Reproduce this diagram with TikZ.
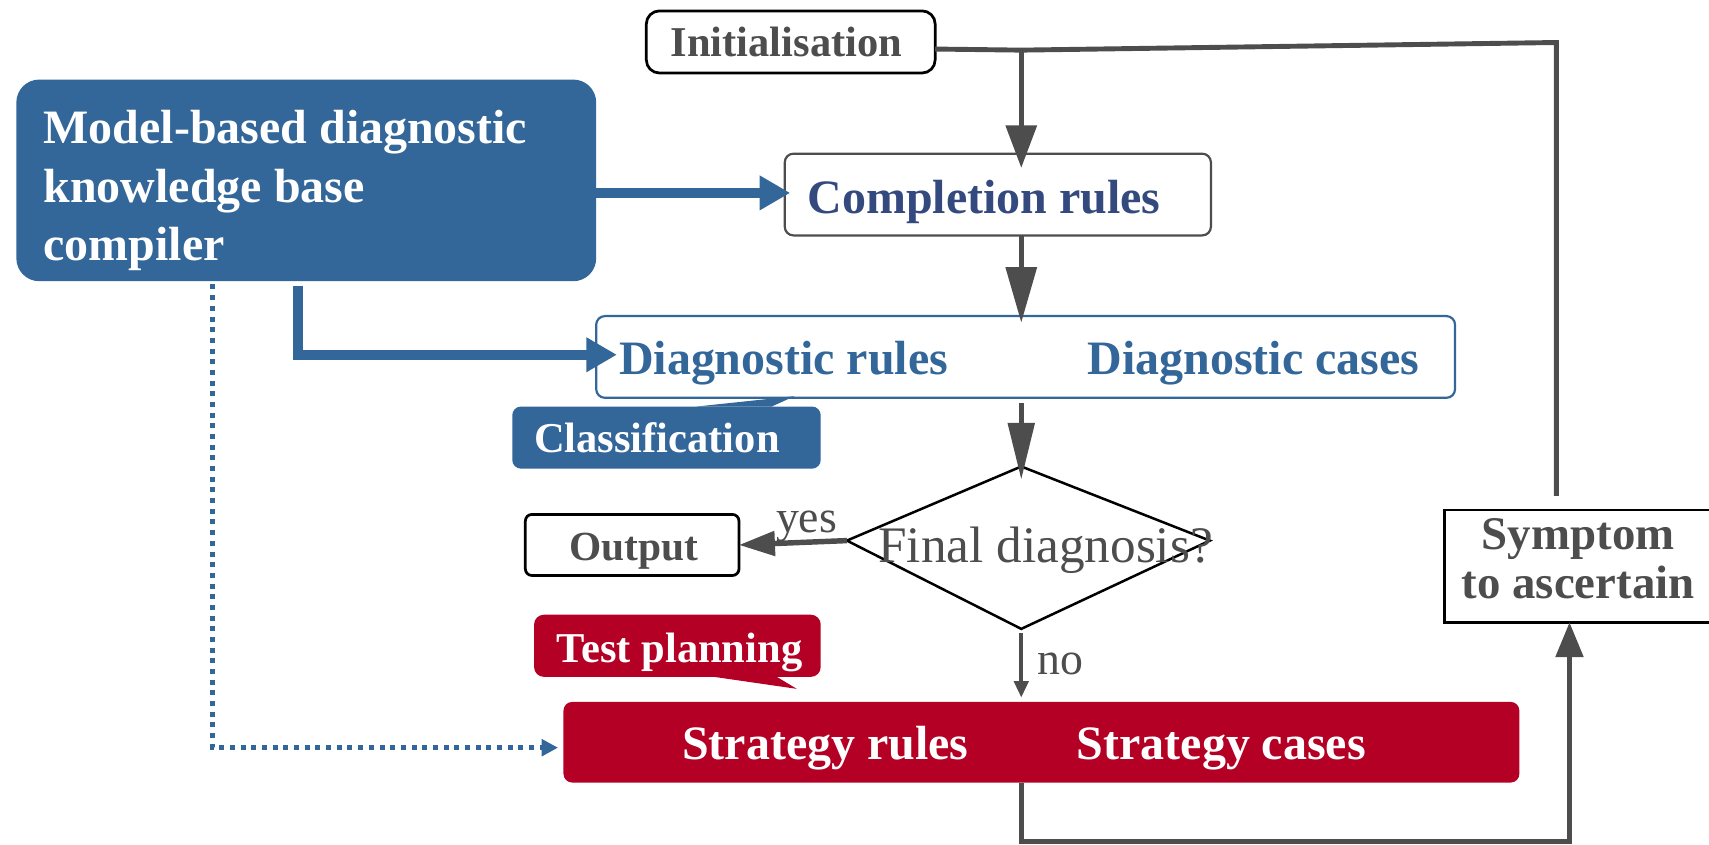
\documentclass[tikz,border=0pt]{standalone}
\usepackage{fontspec}
\setmainfont{Liberation Serif}
\usetikzlibrary{arrows.meta}

\definecolor{kbblue}{RGB}{51,102,153}
\definecolor{kbnavy}{RGB}{52,74,127}
\definecolor{kbred}{RGB}{180,0,36}
\definecolor{kbgray}{RGB}{77,77,77}

\tikzset{
  sz/.style={font=\fontsize{#1}{#1}\selectfont},
  boxshape/.style={rectangle, inner sep=0pt, outer sep=0pt},
  plainbox/.style={boxshape, draw=black, line width=2.5pt, fill=white},
  label/.style={inner sep=0pt, outer sep=0pt},
  grayline/.style={draw=kbgray, line width=4.5pt, line join=miter},
  blueline/.style={draw=kbblue, line width=9.5pt, line join=miter,
    -{Triangle[length=28pt,width=30pt]}},
  bluedots/.style={draw=kbblue, line width=4.5pt, dash pattern=on 4.6pt off 5.2pt,
    -{Triangle[length=15pt,width=15pt]}},
}

\begin{document}
\begin{tikzpicture}[x=1pt, y=-1pt]
\useasboundingbox (0,0) rectangle (1568,775);

% ---- boxes ----
\node[plainbox, rounded corners=12pt, minimum width=265pt, minimum height=57pt]
  (init) at (725.5,38.5) {};
\node[boxshape, fill=kbblue, rounded corners=21pt, minimum width=532pt, minimum height=185pt]
  (model) at (281,165.5) {};
\node[boxshape, draw=kbgray, line width=2pt, fill=white, rounded corners=8pt,
  minimum width=391pt, minimum height=75pt] (comp) at (915.5,178.5) {};
\node[boxshape, draw=kbblue, line width=2pt, fill=white, rounded corners=8pt,
  minimum width=788pt, minimum height=75pt] (diag) at (941,327.5) {};
\node[boxshape, fill=kbblue, rounded corners=8pt, minimum width=283pt, minimum height=57pt]
  (cls) at (611.5,401.5) {};
\node[plainbox, rounded corners=6pt, minimum width=196pt, minimum height=56pt]
  (out) at (580,500) {};
\node[boxshape, fill=kbred, rounded corners=9pt, minimum width=263pt, minimum height=57pt]
  (test) at (621.5,592.5) {};
\node[boxshape, fill=kbred, rounded corners=8pt, minimum width=877pt, minimum height=74pt]
  (strat) at (955.5,681) {};
\node[plainbox, minimum width=295pt, minimum height=103pt]
  (symp) at (1472.5,519.5) {};

% callout tails
\fill[kbblue] (639,373) -- (729,363.5) -- (708,373) -- cycle;
\fill[kbred] (648,620) -- (731,632) -- (711,620) -- cycle;

% decision diamond
\coordinate (dT) at (937,428);
\coordinate (dL) at (777,496);
\coordinate (dR) at (1110,496);
\coordinate (dB) at (937,577);
\draw[black, line width=2.3pt, line join=miter] (dT) -- (dR) -- (dB) -- (dL) -- cycle;

% ---- texts ----
\node[label, sz=39, text=kbgray, anchor=base] (initT) at (721.5,52) {\bfseries Initialisation};
\node[label, text=white, anchor=north west, align=left,
  font=\fontsize{44}{53.5}\selectfont\bfseries] (modelT) at (40,101.5)
  {Model-based diagnostic\\knowledge base\\compiler};
\node[label, sz=44, text=kbnavy, anchor=base west] (compT) at (741,196) {\bfseries Completion rules};
\node[label, sz=44, text=kbblue, anchor=base west] (drT) at (568,344) {\bfseries Diagnostic rules};
\node[label, sz=44, text=kbblue, anchor=base west] (dcT) at (998,344) {\bfseries Diagnostic cases};
\node[label, sz=39, text=white, anchor=base west] (clsT) at (490,415) {\bfseries Classification};
\node[label, sz=38, text=kbgray, anchor=base] (outT) at (581.5,514) {\bfseries Output};
\node[label, sz=47, text=kbgray, anchor=base west] (finT) at (806,516) {Final diagnosis?};
\node[label, sz=42, text=kbgray, anchor=base west] (yesT) at (712,489) {yes};
\node[label, sz=42, text=kbgray, anchor=base west] (noT) at (952,619) {no};
\node[label, sz=39, text=white, anchor=base west] (testT) at (511,608) {\bfseries Test planning};
\node[label, sz=44, text=white, anchor=base west] (srT) at (626,697) {\bfseries Strategy rules};
\node[label, sz=44, text=white, anchor=base west] (scT) at (988,697) {\bfseries Strategy cases};
\node[label, text=kbgray, anchor=north, align=center,
  font=\fontsize{43}{45}\selectfont\bfseries] (sympT) at (1448,476) {Symptom\\to ascertain};

% ---- connectors ----
\coordinate (jn) at (937,46);
\coordinate (tr) at (1428,39);
\coordinate (sympTop) at (1428,455);
\coordinate (initOut) at (858,45);
\draw[grayline] (initOut) -- (jn) -- (tr) -- (sympTop);

\draw[grayline, -{Triangle[length=39pt,width=28pt]}, shorten >=-13pt]
  (jn) -- (jn |- comp.north);
\draw[grayline, -{Triangle[length=51pt,width=28pt]}, shorten >=-6pt]
  (jn |- comp.south) -- (jn |- diag.north);
\draw[grayline, -{Triangle[length=52pt,width=24pt]}, shorten <=5pt, shorten >=-12pt]
  (jn |- diag.south) -- (dT);
\draw[grayline, line width=5pt, -{Triangle[length=33pt,width=22pt]}]
  (dL) -- (out.east);
\draw[grayline, line width=3.5pt, -{Triangle[length=15pt,width=13pt]},
  shorten <=4pt, shorten >=4pt] (dB) -- (dB |- strat.north);

\coordinate (bl) at (937,772);
\coordinate (br) at (1440,772);
\draw[grayline, -{Triangle[length=32pt,width=25pt]}]
  (bl |- strat.south) -- (bl) -- (br) -- (br |- symp.south);

% compiler outputs
\coordinate (m1) at (547,177);
\draw[blueline, shorten >=-5pt] (m1) -- (comp.west |- m1);
\coordinate (mb) at (273.5,262);
\coordinate (mc) at (273.5,325.5);
\draw[blueline, shorten >=-19pt] (mb) -- (mc) -- (diag.west |- mc);
\coordinate (dtop) at (195,261);
\coordinate (dcor) at (195,686);
\draw[bluedots, shorten >=5pt] (dtop) -- (dcor) -- (strat.west |- dcor);

\end{tikzpicture}
\end{document}
